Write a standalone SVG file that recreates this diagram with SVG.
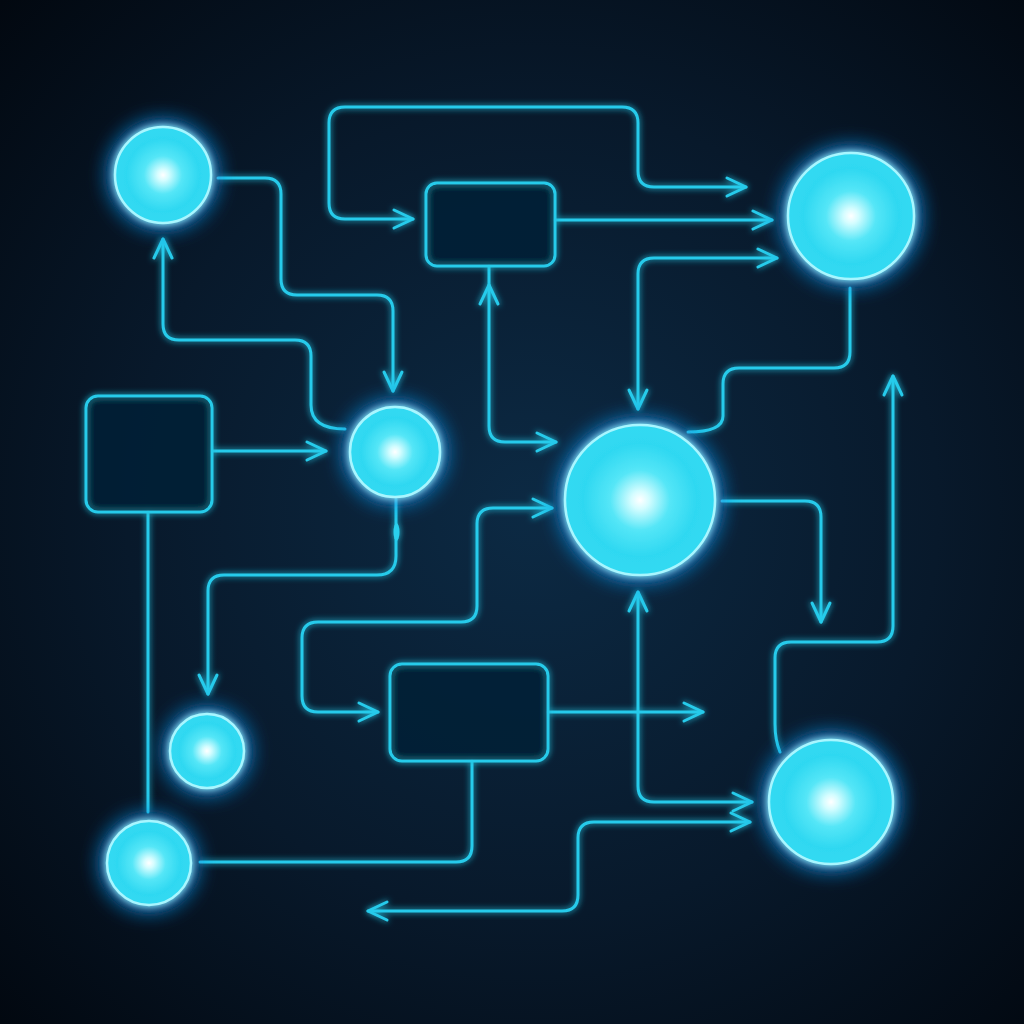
<svg xmlns="http://www.w3.org/2000/svg" width="1024" height="1024" viewBox="0 0 1024 1024">
<defs>
<radialGradient id="bg" cx="0.52" cy="0.5" r="0.72">
<stop offset="0" stop-color="#0c2a44"/>
<stop offset="0.55" stop-color="#08192b"/>
<stop offset="1" stop-color="#020810"/>
</radialGradient>
<radialGradient id="orb" cx="0.5" cy="0.5" r="0.5">
<stop offset="0" stop-color="#ffffff"/>
<stop offset="0.12" stop-color="#d4fdff"/>
<stop offset="0.4" stop-color="#55e6f7"/>
<stop offset="0.75" stop-color="#2fd8f1"/>
<stop offset="1" stop-color="#32daf2"/>
</radialGradient>
<filter id="glow" x="-50%" y="-50%" width="200%" height="200%">
<feGaussianBlur in="SourceGraphic" stdDeviation="3" result="b"/>
<feMerge><feMergeNode in="b"/><feMergeNode in="SourceGraphic"/></feMerge>
</filter>
<filter id="orbglow" x="-80%" y="-80%" width="260%" height="260%">
<feFlood flood-color="#1c8fe0" flood-opacity="0.9"/>
<feComposite in2="SourceAlpha" operator="in"/>
<feGaussianBlur stdDeviation="12" result="halo"/>
<feGaussianBlur in="SourceGraphic" stdDeviation="3" result="soft"/>
<feMerge><feMergeNode in="halo"/><feMergeNode in="halo"/><feMergeNode in="soft"/><feMergeNode in="SourceGraphic"/></feMerge>
</filter>
<marker id="arr" viewBox="-22 -12 26 24" refX="0" refY="0" markerWidth="26" markerHeight="24" markerUnits="userSpaceOnUse" orient="auto-start-reverse">
<path d="M-19,-9 L0,0 L-19,9" fill="none" stroke="#26cbeb" stroke-width="3" stroke-linecap="round" stroke-linejoin="round"/>
</marker>
</defs>
<style>
.c{fill:none;stroke:#26cbeb;stroke-width:3;stroke-linecap:round;stroke-linejoin:round}
.orb{fill:url(#orb);stroke:#a8f6ff;stroke-width:2.5;filter:url(#orbglow)}
.box{fill:#0a2035;fill-opacity:0.6;stroke:#27cbea;stroke-width:3;filter:url(#glow)}
</style>
<rect width="1024" height="1024" fill="url(#bg)"/>
<g id="connectors" filter="url(#glow)">
<path class="c" d="M218,178 H265 Q281,178 281,194 V279 Q281,295 297,295 H377 Q393,295 393,311 V391" marker-end="url(#arr)"/>
<path class="c" d="M345,429 Q311,429 311,405 V356 Q311,340 295,340 H179 Q163,340 163,324 V239" marker-end="url(#arr)"/>
<path class="c" d="M413,219 H345 Q329,219 329,203 V123 Q329,107 345,107 H622 Q638,107 638,123 V171 Q638,187 654,187 H746" marker-start="url(#arr)" marker-end="url(#arr)"/>
<path class="c" d="M555,220 H772" marker-end="url(#arr)"/>
<path class="c" d="M777,258 H654 Q638,258 638,274 V409" marker-start="url(#arr)" marker-end="url(#arr)"/>
<path class="c" d="M850,288 V352 Q850,368 834,368 H739 Q723,368 723,384 V416 Q723,432 688,432"/>
<path class="c" d="M489,266 V284"/>
<path class="c" d="M556,442 H505 Q489,442 489,426 V285" marker-start="url(#arr)" marker-end="url(#arr)"/>
<path class="c" d="M212,451 H326" marker-end="url(#arr)"/>
<path class="c" d="M148,512 V812"/>
<path class="c" d="M396,499 V556 Q396,575 377,575 H224 Q208,575 208,591 V694" marker-end="url(#arr)"/>
<ellipse cx="396.5" cy="532" rx="3" ry="9" fill="#2ad0ee"/>
<path class="c" d="M552,508 H493 Q477,508 477,524 V606 Q477,622 461,622 H318 Q302,622 302,638 V696 Q302,712 318,712 H378" marker-start="url(#arr)" marker-end="url(#arr)"/>
<path class="c" d="M548,712 H703" marker-end="url(#arr)"/>
<path class="c" d="M638,592 V786 Q638,802 654,802 H752" marker-start="url(#arr)" marker-end="url(#arr)"/>
<path class="c" d="M472,761 V846 Q472,862 456,862 H200"/>
<path class="c" d="M368,911 H562 Q578,911 578,895 V838 Q578,822 594,822 H750" marker-start="url(#arr)" marker-end="url(#arr)"/>
<path class="c" d="M722,501 H805 Q821,501 821,517 V622" marker-end="url(#arr)"/>
<path class="c" d="M780,752 Q775,740 775,724 V658 Q775,642 791,642 H877 Q893,642 893,626 V376" marker-end="url(#arr)"/>
</g>
<g id="nodeA"><circle class="orb" cx="163" cy="175" r="48"/></g>
<g id="nodeB"><circle class="orb" cx="851" cy="216" r="63"/></g>
<g id="nodeC"><circle class="orb" cx="395" cy="452" r="45"/></g>
<g id="nodeD"><circle class="orb" cx="640" cy="500" r="75"/></g>
<g id="nodeE"><circle class="orb" cx="207" cy="751" r="37"/></g>
<g id="nodeF"><circle class="orb" cx="149" cy="863" r="42"/></g>
<g id="nodeG"><circle class="orb" cx="831" cy="802" r="62"/></g>
<g id="box1"><rect class="box" x="426" y="183" width="129" height="83" rx="11"/></g>
<g id="box2"><rect class="box" x="86" y="396" width="126" height="116" rx="12"/></g>
<g id="box3"><rect class="box" x="390" y="664" width="158" height="97" rx="12"/></g>
</svg>
